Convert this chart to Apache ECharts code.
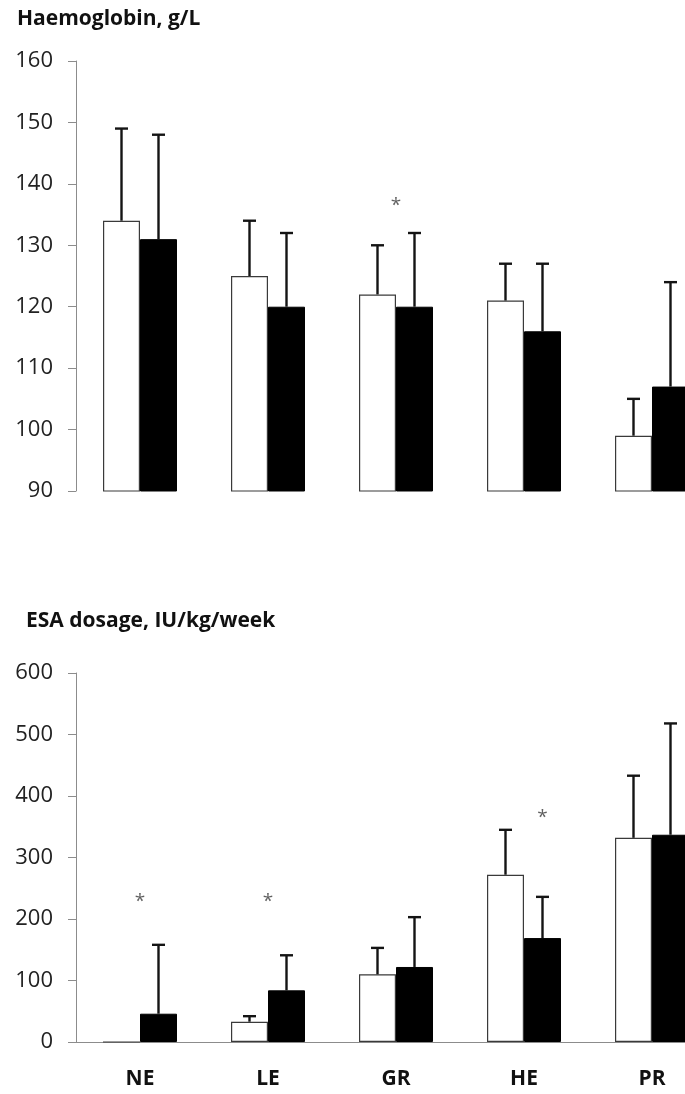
<!DOCTYPE html>
<html lang="en">
<head>
    <meta charset="UTF-8">
    <title>Haemoglobin and ESA dosage</title>
    <script src="https://cdn.jsdelivr.net/npm/echarts@6/dist/echarts.min.js"></script>
    <style>
        html, body { margin: 0; padding: 0; background: #fff; overflow: hidden; }
    </style>
</head>
<body>
<!-- the original figure is cut off at the right edge, through the last black bar -->
<div id="echarts" style="width: 720px;height:1094px"></div>
<script>
    var chartDom = document.getElementById('echarts');
    var myChart = echarts.init(chartDom);

    var groups = ['NE', 'LE', 'GR', 'HE', 'PR'];
    // Haemoglobin, g/L : mean and mean + SD (white / black bars)
    var hbWhite = [134, 125, 122, 121, 99];
    var hbWhiteTop = [149, 134, 130, 127, 105];
    var hbBlack = [131, 120, 120, 116, 107];
    var hbBlackTop = [148, 132, 132, 127, 124];
    var hbStars = [['GR', 136.5, 0]];        // [group, y, 0 = centre / 1 = over black bar]
    // ESA dosage, IU/kg/week
    var esaWhite = [0, 33, 110, 272, 332];
    var esaWhiteTop = [null, 42, 153, 345, 433];
    var esaBlack = [46, 84, 122, 169, 337];
    var esaBlackTop = [158, 141, 203, 236, 518];
    var esaStars = [['NE', 228, 0], ['LE', 228, 0], ['HE', 365, 1]];
    var hbTicks = [90, 160, 10];
    var esaTicks = [0, 600, 100];

    var font = 'Open Sans';
    var barW = 37;

    function errData(mean, top) {
        return mean.map(function (v, i) { return [i, v, top[i] == null ? NaN : top[i]]; });
    }

    function errSeries(idx, mean, top, shift) {
        return {
            type: 'custom',
            xAxisIndex: idx,
            yAxisIndex: idx,
            z: 5,
            silent: true,
            renderItem: function (params, api) {
                var t = api.value(2);
                if (isNaN(t)) return;
                var p0 = api.coord([api.value(0), api.value(1)]);
                var p1 = api.coord([api.value(0), t]);
                var x = p0[0] + shift;
                var st = { stroke: '#141414', lineWidth: 2.4 };
                return {
                    type: 'group',
                    children: [
                        { type: 'line', shape: { x1: x, y1: p0[1], x2: x, y2: p1[1] }, style: st },
                        { type: 'line', shape: { x1: x - 6.5, y1: p1[1], x2: x + 6.5, y2: p1[1] }, style: st }
                    ]
                };
            },
            data: errData(mean, top)
        };
    }

    function starSeries(idx, stars) {
        return {
            type: 'scatter',
            xAxisIndex: idx,
            yAxisIndex: idx,
            symbolSize: 0,
            silent: true,
            label: {
                show: true,
                position: 'inside',
                formatter: '*',
                color: '#3a3a3a',
                fontFamily: font,
                fontSize: 19
            },
            data: stars.map(function (s) {
                return { value: [s[0], s[1]], label: { offset: [s[2] * barW / 2, 0] } };
            })
        };
    }

    function barSeries(idx, data, dark) {
        return {
            type: 'bar',
            xAxisIndex: idx,
            yAxisIndex: idx,
            barWidth: barW,
            barGap: 0,
            silent: true,
            itemStyle: dark ? { color: '#000', borderColor: '#000', borderWidth: 1 }
                            : { color: '#fff', borderColor: '#3a3a3a', borderWidth: 1.2 },
            data: data
        };
    }

    function yAxis(idx, t) {
        return {
            gridIndex: idx,
            type: 'value',
            min: t[0],
            max: t[1],
            interval: t[2],
            splitLine: { show: false },
            axisLine: { show: true, lineStyle: { color: '#8c8c8c', width: 1 } },
            axisTick: { show: true, length: 8, lineStyle: { color: '#8c8c8c' } },
            axisLabel: { color: '#222', fontFamily: font, fontSize: 22, margin: 23 }
        };
    }

    var option = {
        backgroundColor: '#ffffff',
        animation: false,
        title: [{
            text: 'Haemoglobin, g/L',
            left: 12,
            top: 4,
            textStyle: { fontFamily: font, fontSize: 21, fontWeight: 'bold', color: '#111' }
        }, {
            text: 'ESA dosage, IU/kg/week',
            left: 21,
            top: 606,
            textStyle: { fontFamily: font, fontSize: 21, fontWeight: 'bold', color: '#111' }
        }],
        grid: [{
            left: 76, top: 61, height: 430, width: 640
        }, {
            left: 76, top: 673, height: 369, width: 640
        }],
        xAxis: [{
            gridIndex: 0,
            type: 'category',
            data: groups,
            axisLine: { show: false },
            axisTick: { show: false },
            axisLabel: { show: false }
        }, {
            gridIndex: 1,
            type: 'category',
            data: groups,
            axisLine: { show: true, lineStyle: { color: '#8c8c8c', width: 1 } },
            axisTick: { show: false },
            axisLabel: { color: '#111', fontFamily: font, fontSize: 21, fontWeight: 'bold', margin: 27 }
        }],
        yAxis: [yAxis(0, hbTicks), yAxis(1, esaTicks)],
        series: [
            barSeries(0, hbWhite, false),
            barSeries(0, hbBlack, true),
            errSeries(0, hbWhite, hbWhiteTop, -barW / 2),
            errSeries(0, hbBlack, hbBlackTop, barW / 2),
            starSeries(0, hbStars),
            barSeries(1, esaWhite, false),
            barSeries(1, esaBlack, true),
            errSeries(1, esaWhite, esaWhiteTop, -barW / 2),
            errSeries(1, esaBlack, esaBlackTop, barW / 2),
            starSeries(1, esaStars)
        ]
    };

    option && myChart.setOption(option);
</script>
</body>
</html>
